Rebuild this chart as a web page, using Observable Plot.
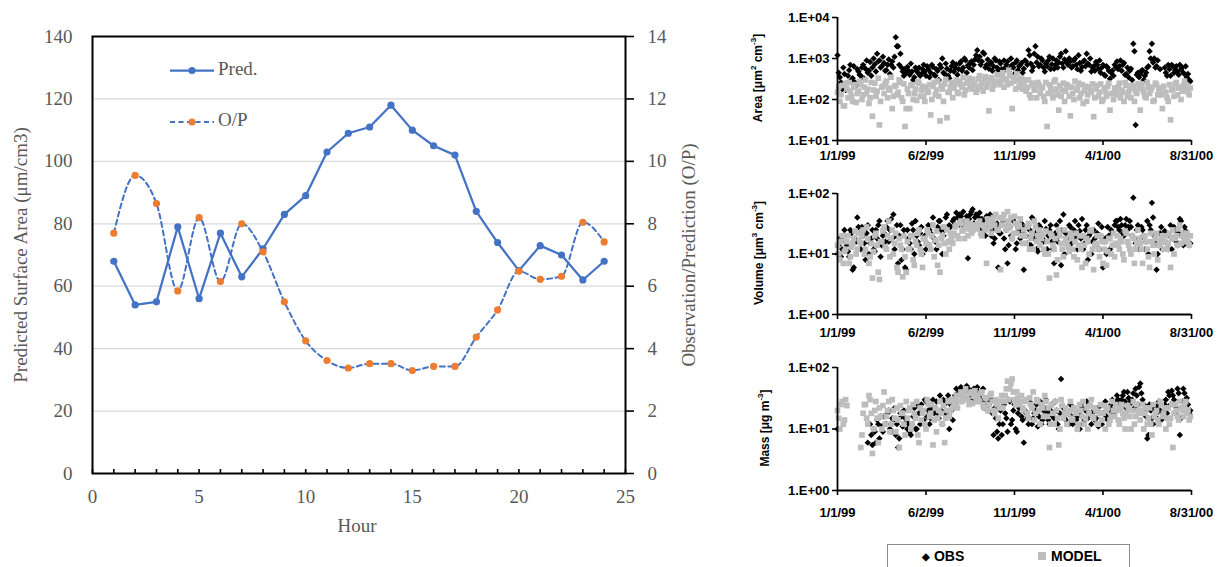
<!DOCTYPE html>
<html><head><meta charset="utf-8">
<script src="https://cdn.jsdelivr.net/npm/d3@7"></script>
<script src="https://cdn.jsdelivr.net/npm/@observablehq/plot@0.6"></script>
<style>
html,body{margin:0;padding:0;background:#fff;}
body{width:1221px;height:567px;overflow:hidden;position:relative;}
.abs{position:absolute;}
.serif{font-family:"Liberation Serif","Times New Roman",serif;color:#595959;font-size:19px;white-space:nowrap;}
.sans{font-family:"Liberation Sans",Arial,sans-serif;font-weight:bold;color:#000;font-size:12px;white-space:nowrap;}
.rot{transform:translate(-50%,-50%) rotate(-90deg);}
.ctr{transform:translate(-50%,-50%);}
sup{font-size:8px;vertical-align:6px;line-height:0;}
</style></head><body>
<div id="left" class="abs" style="left:0;top:0"></div>
<div id="p1" class="abs" style="left:740px;top:0"></div>
<div id="p2" class="abs" style="left:740px;top:176px"></div>
<div id="p3" class="abs" style="left:740px;top:350px"></div>
<script>
// ---------- Left chart data ----------
const hours = [1,2,3,4,5,6,7,8,9,10,11,12,13,14,15,16,17,18,19,20,21,22,23,24];
const pred = [68,54,55,79,56,77,63,72,83,89,103,109,111,118,110,105,102,84,74,65,73,70,62,68];
const op = [7.7,9.55,8.65,5.85,8.2,6.15,8.0,7.1,5.5,4.25,3.62,3.38,3.52,3.52,3.3,3.43,3.43,4.37,5.24,6.48,6.22,6.32,8.05,7.42];
const leftTicks = [0,20,40,60,80,100,120,140];
const gridTicks = [20,40,60,80,100,120];
const opTicks = [0,2,4,6,8,10,12,14];
const hourTicks = [0,5,10,15,20,25];
const minorHourTicks = [0,1,2,3,4,5,6,7,8,9,10,11,12,13,14,15,16,17,18,19,20,21,22,23,24,25];

// ---------- Right panels data ----------
// "A" arrays: days 0,4,8,... from 1/1/99 ; "B" arrays: days 2,6,10,...
const areaObsA = [
1200,350,180,420,250,520,300,650,220,480,
380,700,560,450,820,600,720,1300,900,650,
780,520,950,700,600,3300,2000,1300,480,550,
620,400,480,350,520,600,420,700,380,550,
450,620,380,500,700,1000,420,560,330,650,
480,720,550,850,600,900,680,780,520,950,
1600,1100,850,1300,700,560,800,650,900,520,
750,480,600,850,580,700,420,900,650,780,
560,850,1600,750,620,2000,1100,700,900,480,
650,1100,720,560,900,800,1300,600,1500,700,
850,650,1000,550,780,620,900,1300,700,480,
650,820,560,450,700,380,600,320,500,700,
850,650,500,780,420,350,560,2300,24,450,
420,520,380,600,1500,2300,1000,650,null,null,
null,450,700,380,650,520,480,700,600,420,
350,300];
const areaObsB = [
450,260,600,170,380,700,330,260,550,400,
600,320,900,500,380,1000,480,850,600,1100,
500,700,420,850,1100,2000,700,600,380,450,
500,750,300,600,450,380,550,480,650,350,
700,400,550,300,600,450,750,380,500,800,
600,400,750,500,1000,450,600,850,700,1200,
900,700,1400,600,950,750,500,1000,600,850,
550,900,700,480,1000,600,800,520,700,450,
900,700,1200,500,1300,800,650,1000,600,750,
900,550,1000,700,600,1100,750,950,800,1000,
600,900,700,1200,500,850,650,750,1000,600,
500,700,900,600,400,650,500,450,380,600,
550,900,700,400,600,500,300,1500,400,350,
500,300,450,650,1000,800,600,900,550,null,
600,380,550,700,450,650,400,550,450,650,
420,280];
const areaModelA = [
150,90,220,70,180,260,120,200,85,160,
230,130,300,180,110,39,250,160,24,200,
140,280,190,350,120,220,150,260,90,22,
180,60,230,140,95,250,170,120,200,150,
42,210,130,280,30,180,240,36,150,260,
190,300,140,230,350,170,260,200,310,240,
180,380,250,300,200,53,340,220,280,400,
260,450,320,230,380,60,280,420,200,330,
240,160,300,110,220,180,260,140,200,90,
22,230,150,270,180,55,120,250,160,210,
40,140,280,190,110,230,160,90,200,150,
38,180,120,240,100,160,210,55,140,190,
130,250,170,90,220,150,110,200,160,240,
55,180,120,260,140,200,95,230,170,130,
210,150,90,32,180,240,130,200,160,280,
220,130];
const areaModelB = [
200,130,70,250,110,160,90,230,140,280,
100,200,140,80,260,170,120,330,90,210,
250,110,170,60,210,130,300,110,240,60,
140,220,100,180,270,120,210,90,160,230,
100,260,170,120,220,90,310,150,200,110,
240,150,280,200,130,250,330,180,230,150,
320,210,160,360,240,300,180,260,400,230,
350,200,300,520,250,350,180,300,260,180,
300,200,130,250,170,110,230,190,120,260,
140,190,110,300,130,220,170,90,230,120,
200,100,170,250,140,80,210,130,170,240,
110,220,150,90,190,120,250,140,100,170,
200,110,150,260,120,180,220,90,140,190,
240,150,110,200,170,90,250,130,190,60,
150,110,230,170,120,260,190,100,220,170,
150,190];
const volObsA = [
10,18,12,25,14,9,22,6,16,28,
12,20,8,30,15,25,11,18,35,14,
22,28,16,38,45,20,7,30,12,6,
25,15,32,10,20,14,28,18,12,30,
22,40,16,28,35,10,25,45,30,20,
38,48,30,42,50,35,8.5,45,55,40,
30,48,38,25,42,33,20,15,28,6,
22,35,12,7,28,18,40,15,25,32,
5.5,20,30,14,38,22,11,28,18,35,
12,25,16,7,30,20,6.5,45,22,14,
28,18,35,12,24,38,15,30,20,10,
25,14,32,20,6,18,28,12,22,30,
35,25,30,20,38,28,28,85,15,30,
18,25,12,35,30,70,20,5.5,14,28,
16,22,12,30,18,25,14,38,20,28,
16,14];
const volObsB = [
14,9,20,16,11,25,5.5,18,40,22,
28,15,22,10,18,12,25,30,9,20,
16,35,25,18,12,30,20,8,25,5.5,
18,12,25,35,16,22,10,20,15,25,
30,18,12,35,25,20,40,16,28,35,
30,40,45,35,28,42,38,50,32,45,
40,25,35,20,30,45,25,18,32,22,
30,18,25,14,20,35,12,28,18,22,
28,15,25,40,18,12,30,22,16,26,
20,30,12,22,16,35,25,10,18,30,
15,25,20,30,18,12,25,8,22,16,
18,22,12,28,16,10,20,25,14,35,
28,38,22,30,25,35,20,18,25,12,
28,20,16,10,25,40,15,10,22,12,
24,15,20,12,28,16,22,35,14,24,
20,15];
const volModelA = [
14,8,20,11,16,7,13,18,10,22,
15,25,12,18,9,4,20,14,3.8,16,
28,12,35,18,10,22,5,14,4.2,9,
16,12,20,6.5,14,25,10,18,15,22,
12,30,17,6.5,5,20,15,25,12,18,
22,30,18,35,25,28,20,32,24,30,
26,35,20,28,7,32,22,40,45,25,
5.5,38,30,50,28,18,42,22,30,20,
25,15,32,18,12,28,20,14,22,10,
16,4,20,12,4.5,25,15,9,18,13,
22,12,16,8,20,6,14,18,10,25,
5.5,15,12,20,7,16,11,18,14,9,
20,12,16,8,22,14,10,18,12,25,
15,7,20,12,6,16,10,22,14,18,
12,20,15,6,25,18,14,30,20,16,
22,14];
const volModelB = [
10,16,7,12,20,9,15,24,12,17,
20,10,28,7,15,11,22,5,16,24,
13,20,9,25,15,6,18,12,20,5,
12,20,8,16,22,12,6,18,25,14,
20,9,24,14,18,28,10,16,22,15,
28,20,32,24,18,35,26,22,30,28,
32,22,30,25,38,28,35,30,25,40,
30,45,25,35,40,22,32,28,38,15,
20,28,12,22,35,16,25,18,12,24,
10,22,14,18,8,20,12,25,15,11,
18,9,22,14,12,20,7,16,24,12,
14,20,9,16,12,6.5,18,10,22,15,
14,18,10,24,16,12,20,7,15,18,
12,20,16,9,22,14,18,8,16,20,
16,12,22,18,10,20,26,15,22,18,
16,20];
const massObsA = [
10,null,null,null,null,null,null,null,null,null,
null,null,null,6,12,5.5,9,14,7,11,
16,12,20,9,14,8,5,18,11,15,
10,9,12,22,10,18,25,14,28,20,
15,30,22,18,35,12,25,28,10,20,
30,45,38,48,35,42,46,32,40,30,
48,35,28,22,32,25,30,8,15,7,
20,12,18,9,28,14,25,9,22,16,
6,18,12,24,15,20,11,28,14,22,
18,12,25,15,20,10,65,22,14,18,
25,12,20,16,10,22,14,28,18,12,
20,15,11,24,18,28,14,22,30,20,
35,25,30,40,22,32,28,38,45,25,
55,30,20,7,25,15,22,18,28,14,
20,30,40,25,35,18,45,8,28,38,
32,18];
const massObsB = [
null,null,null,null,null,null,null,null,null,null,
null,null,null,null,8,10,6,12,16,9,
12,18,10,15,22,12,7,16,20,13,
12,8,16,10,25,12,20,30,16,12,
22,18,28,15,20,30,18,35,25,14,
35,28,40,45,38,50,42,36,45,35,
40,30,45,25,20,28,18,22,9,12,
8,25,15,30,12,20,10,18,28,14,
20,15,28,12,18,25,16,12,20,30,
14,20,16,28,12,18,24,15,20,12,
16,22,14,18,25,12,20,15,24,18,
14,22,18,12,26,16,20,25,18,28,
30,22,35,28,40,25,30,22,35,48,
38,25,16,8,20,12,16,24,20,15,
25,18,35,42,30,22,38,15,45,30,
25,20];
const massModelA = [
20,10,28,14,24,null,null,null,null,null,
5,18,25,12,30,4,20,15,22,10,
40,16,28,12,20,9,14,24,18,8,
15,22,12,18,28,6,14,20,10,25,
18,5.5,22,15,28,12,6,20,16,30,
25,35,28,40,32,45,30,38,26,42,
35,28,40,22,32,25,38,20,30,15,
28,22,35,60,45,65,30,40,25,35,
20,30,15,25,40,18,28,12,22,35,
16,5,25,12,20,5.5,30,15,22,18,
28,14,20,10,25,16,12,22,18,30,
15,20,12,25,18,10,22,14,28,16,
20,12,25,15,18,22,10,28,16,20,
14,25,18,12,22,8,16,20,12,25,
18,10,22,15,5,25,16,28,20,24,
18,14];
const massModelB = [
15,25,12,30,null,null,null,null,null,null,
8,25,15,35,18,10,28,6,16,24,
12,20,9,30,15,22,5,18,12,28,
20,10,25,15,8,22,18,12,30,16,
25,14,9,20,18,24,15,28,20,22,
30,22,35,28,38,32,25,40,34,28,
30,38,25,32,20,35,28,18,25,22,
35,28,45,30,55,40,25,32,28,22,
28,18,32,22,14,30,20,25,16,28,
22,12,18,28,15,10,24,18,12,20,
15,22,18,12,20,28,15,10,24,16,
22,12,18,14,24,20,12,16,20,25,
14,22,18,10,24,16,20,12,25,18,
20,10,22,15,12,25,18,14,28,16,
22,15,12,25,18,20,14,22,16,28,
20,16];
const dateTicks = [new Date(Date.UTC(1999,0,1)), new Date(Date.UTC(1999,5,2)), new Date(Date.UTC(1999,10,1)), new Date(Date.UTC(2000,3,1)), new Date(Date.UTC(2000,7,31))];
const dateLabels = ["1/1/99","6/2/99","11/1/99","4/1/00","8/31/00"];
const areaTicks = [1e1,1e2,1e3,1e4];
const areaTickLabels = ["1.E+01","1.E+02","1.E+03","1.E+04"];
const smallTicks = [1e0,1e1,1e2];
const smallTickLabels = ["1.E+00","1.E+01","1.E+02"];

// ---------- Left chart ----------
const hourRows = hours.map((h,i)=>({hour:h, pred:pred[i], op:op[i]}));
const LH = 545, LMT = 36, LMB = 72;
const innerLH = LH - LMT - LMB;
const leftChart = Plot.plot({
  width: 700, height: LH,
  marginLeft: 92, marginRight: 75, marginTop: LMT, marginBottom: LMB,
  x: {domain: [0,25], axis: null},
  y: {domain: [0,140], axis: null},
  style: {fontFamily: "'Liberation Serif','Times New Roman',serif", fontSize: "19px", color: "#595959", background: "transparent", overflow: "visible"},
  marks: [
    Plot.gridY(gridTicks, {stroke: "#d9d9d9", strokeOpacity: 1, strokeWidth: 1.2}),
    Plot.line(hourRows, {x: "hour", y: "pred", stroke: "#4472C4", strokeWidth: 2.25}),
    Plot.dot(hourRows, {x: "hour", y: "pred", fill: "#4472C4", r: 3.6}),
    Plot.line(hourRows, {x: "hour", y: d => d.op * 10, stroke: "#4472C4", strokeWidth: 2, strokeDasharray: "5,3.5", curve: "monotone-x"}),
    Plot.dot(hourRows, {x: "hour", y: d => d.op * 10, fill: "#ED7D31", r: 3.6}),
    Plot.axisY(leftTicks, {anchor: "left", tickSize: 0, tickPadding: 20, label: null, fill: "#595959"}),
    Plot.axisY(opTicks.map(v => v * 10), {anchor: "right", tickSize: 8, tickPadding: 14, tickFormat: d => String(Math.round(d / 10)), stroke: "black", strokeWidth: 1.6, fill: "#595959", label: null}),
    Plot.axisX(hourTicks, {anchor: "bottom", tickSize: 0, tickPadding: 16, label: null, fill: "#595959"}),
    Plot.tickX(minorHourTicks, {x: d => d, insetTop: innerLH - 4, stroke: "black", strokeWidth: 1.6}),
    Plot.frame({stroke: "black", strokeWidth: 2})
  ]
});
document.getElementById("left").appendChild(leftChart);

// ---------- Right panels ----------
const t0 = Date.UTC(1999,0,1);
const xDomain = [dateTicks[0], dateTicks[4]];
function rowsFor(obsA, obsB, modelA, modelB) {
  const rows = [];
  obsA.forEach((v,i) => {
    rows.push({date: new Date(t0 + (4*i)*864e5), obs: v, model: modelA[i]});
    rows.push({date: new Date(t0 + (4*i+2)*864e5), obs: obsB[i], model: modelB[i]});
  });
  return rows;
}
function panel(el, rows, yTicks, yLabels, opts) {
  const chart = Plot.plot({
    width: 481, height: opts.height,
    marginLeft: 97, marginRight: 30, marginTop: opts.marginTop, marginBottom: opts.marginBottom,
    x: {type: "utc", domain: xDomain, axis: null},
    y: {type: "log", domain: [yTicks[0], yTicks[yTicks.length-1]], axis: null},
    style: {fontFamily: "'Liberation Sans',Arial,sans-serif", fontSize: "13px", fontWeight: "bold", color: "black", background: "transparent", overflow: "visible"},
    marks: [
      Plot.dot(rows.filter(d => d.obs != null), {x: "date", y: "obs", symbol: "diamond2", r: 2.9, fill: "black", stroke: "none"}),
      Plot.dot(rows.filter(d => d.model != null), {x: "date", y: "model", symbol: "square", r: 3.2, fill: "#bdbdbd", stroke: "none"}),
      Plot.ruleX([xDomain[0]], {stroke: "black", strokeWidth: 1.8}),
      Plot.ruleY([yTicks[0]], {stroke: "black", strokeWidth: 1.8}),
      Plot.axisY(yTicks, {anchor: "left", tickSize: 5, tickPadding: 3, strokeWidth: 1.6, tickFormat: d => yLabels[yTicks.indexOf(d)], label: null}),
      Plot.axisX(dateTicks, {anchor: "bottom", tickSize: 5, tickPadding: opts.pad, strokeWidth: 1.6, tickFormat: d => dateLabels[dateTicks.findIndex(t => +t === +d)], label: null})
    ]
  });
  el.appendChild(chart);
}
panel(document.getElementById("p1"), rowsFor(areaObsA, areaObsB, areaModelA, areaModelB), areaTicks, areaTickLabels, {height: 170, marginTop: 17, marginBottom: 30, pad: 5});
panel(document.getElementById("p2"), rowsFor(volObsA, volObsB, volModelA, volModelB), smallTicks, smallTickLabels, {height: 170, marginTop: 17, marginBottom: 32, pad: 8});
panel(document.getElementById("p3"), rowsFor(massObsA, massObsB, massModelA, massModelB), smallTicks, smallTickLabels, {height: 180, marginTop: 17, marginBottom: 40, pad: 12});
</script>

<!-- Left chart titles and legend -->
<div class="abs serif rot" style="left:21px;top:255px;">Predicted Surface Area (μm/cm3)</div>
<div class="abs serif rot" style="left:689px;top:255px;">Observation/Prediction (O/P)</div>
<div class="abs serif ctr" style="left:357px;top:526px;">Hour</div>
<svg class="abs" style="left:0;top:0" width="700" height="545">
  <line x1="170" x2="214" y1="70.5" y2="70.5" stroke="#4472C4" stroke-width="2.25"/>
  <circle cx="192" cy="70.5" r="3.6" fill="#4472C4"/>
  <text x="218" y="70.5" dominant-baseline="middle" font-family="Liberation Serif, serif" font-size="19" fill="#595959">Pred.</text>
  <line x1="170" x2="214" y1="122" y2="122" stroke="#4472C4" stroke-width="2" stroke-dasharray="5,3.5"/>
  <circle cx="192" cy="122" r="3.6" fill="#ED7D31"/>
  <text x="218" y="122" dominant-baseline="middle" font-family="Liberation Serif, serif" font-size="19" fill="#595959">O/P</text>
</svg>

<!-- Right panel titles -->
<div class="abs sans rot" style="left:758px;top:78px;">Area [μm<sup>2</sup> cm<sup>-3</sup>]</div>
<div class="abs sans rot" style="left:759px;top:253px;">Volume [μm<sup>3</sup> cm<sup>-3</sup>]</div>
<div class="abs sans rot" style="left:765px;top:428px;">Mass [μg m<sup>-3</sup>]</div>

<!-- Right legend -->
<div class="abs" style="left:887px;top:544px;width:243px;height:40px;border:1px solid #8c8c8c;box-sizing:border-box;"></div>
<div class="abs sans" style="left:922px;top:548px;font-size:14px;"><span style="font-size:10px;vertical-align:1px;">◆</span> OBS</div>
<div class="abs sans" style="left:1038px;top:548px;font-size:14px;"><span style="display:inline-block;width:8px;height:8px;background:#bdbdbd;margin-right:5px;vertical-align:1px;"></span>MODEL</div>
</body></html>
